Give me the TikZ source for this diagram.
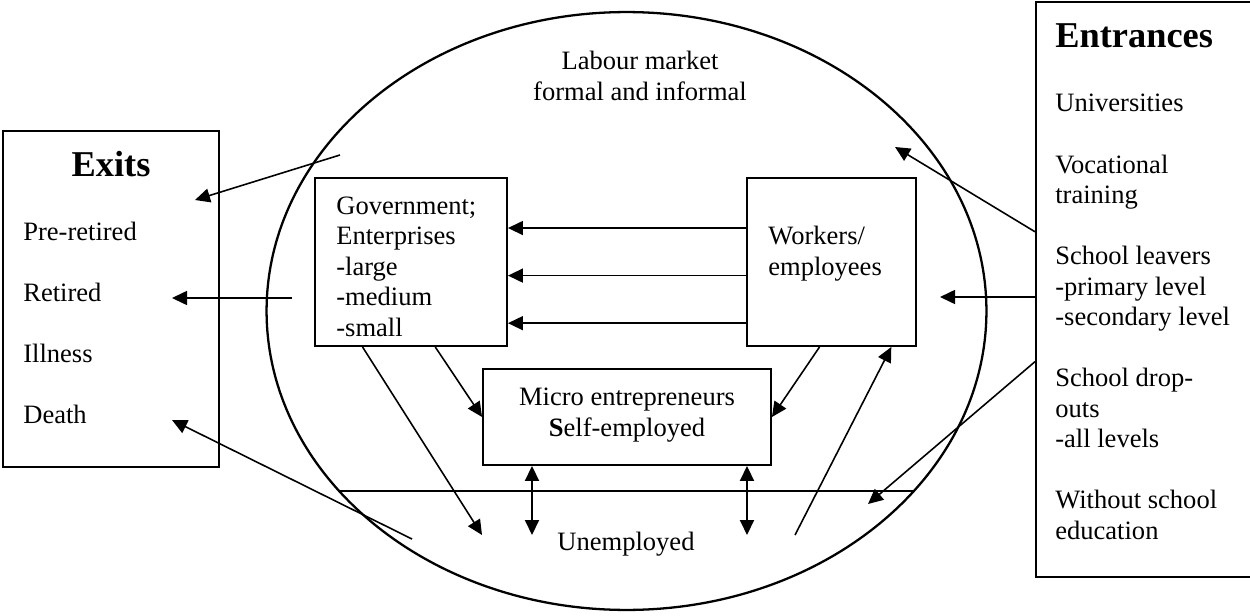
\documentclass[tikz,border=0pt]{standalone}
\usepackage{fontspec}
\setmainfont{Liberation Serif}
\usetikzlibrary{arrows.meta,calc,shapes.geometric}

\begin{document}
\begin{tikzpicture}[x=0.02cm, y=-0.02cm,
		txt/.style={font=\fontsize{15.1}{18}\selectfont, inner sep=0pt},
		head/.style={font=\fontsize{20.7}{24}\selectfont\bfseries, inner sep=0pt},
		box/.style={draw, line width=1.1pt, inner sep=0pt},
		arr/.style={line width=0.9pt, -{Triangle[length=0.3cm, width=0.28cm]}},
		darr/.style={line width=1.1pt, {Triangle[length=0.3cm, width=0.28cm]}-{Triangle[length=0.3cm, width=0.28cm]}}]
		
		\useasboundingbox (0,0) rectangle (1250,615);
		\clip (0,0) rectangle (1250,615);
		
		% labour market
		\node [ellipse, draw, line width=1.3pt, minimum width=14.4cm, minimum height=11.96cm, inner sep=0pt] (market) at (626.5,311) {};
		\node [txt, anchor=base] (lm1) at (640,70) {Labour market};
		\node [txt, anchor=base] (lm2) at (640,100.5) {formal and informal};
		
		% exits
		\node [box, minimum width=4.32cm, minimum height=6.72cm] (exits) at (111,299) {};
		\node [head, anchor=base] (exithead) at (111,176) {Exits};
		\foreach \txt [count=\i] in {Pre-retired, Retired, Illness, Death}
			\node [txt, anchor=base west] (exit\i) at (23, 179+61*\i) {\txt};
		
		% entrances (its right side runs off the page)
		\node [box, minimum width=5.28cm, minimum height=11.5cm] (entr) at (1168,289.5) {};
		\node [head, anchor=base west] (entrhead) at (1055,48) {Entrances};
		\foreach \txt/\row in {Universities/0, Vocational/2, training/3, School leavers/5, -primary level/6, -secondary level/7, School drop-/9, outs/10, -all levels/11, Without school/13, education/14}
			\node [txt, anchor=base west] (entr\row) at (1055, 112+30.5*\row) {\txt};
		
		% government and enterprises
		\node [box, minimum width=3.84cm, minimum height=3.36cm] (gov) at (411,262) {};
		\foreach \txt [count=\i] in {Government;, Enterprises, -large, -medium, -small}
			\node [txt, anchor=base west] (gov\i) at (336, 183.5+30.5*\i) {\txt};
		
		% workers
		\node [box, minimum width=3.38cm, minimum height=3.36cm] (work) at (831.5,262) {};
		\node [txt, anchor=base west] (work1) at (768,244.5) {Workers/};
		\node [txt, anchor=base west] (work2) at (768,275) {employees};
		
		% micro entrepreneurs
		\node [box, minimum width=5.76cm, minimum height=1.92cm] (micro) at (627,417) {};
		\node [txt, anchor=base] (micro1) at (627,405) {Micro entrepreneurs};
		\node [txt, anchor=base] (micro2) at (627,436) {\textbf{S}elf-employed};
		
		% unemployed
		\draw [line width=1.1pt] (market.212) -- (market.-32);
		\node [txt, anchor=base] (unemp) at (626,550) {Unemployed};
		
		% arrows from workers to government
		\foreach \f in {0.3, 0.58, 0.86}
			\draw [arr] ($(work.north west)!\f!(work.south west)$) -- ($(gov.north east)!\f!(gov.south east)$);
		
		% arrows into micro entrepreneurs
		\draw [arr] ($(gov.south west)!0.625!(gov.south east)$) -- (micro.west);
		\draw [arr] ($(work.south west)!0.43!(work.south east)$) -- (micro.east);
		
		% arrows to and from unemployed
		\coordinate (un1) at (482,535);
		\coordinate (un2) at (532,535);
		\coordinate (un3) at (747,535);
		\coordinate (un4) at (795,535);
		\draw [arr] ($(gov.south west)!0.25!(gov.south east)$) -- (un1);
		\draw [darr] (micro.south -| un2) -- (un2);
		\draw [darr] (micro.south -| un3) -- (un3);
		\draw [arr] (un4) -- ($(work.south west)!0.85!(work.south east)$);
		
		% arrows from entrances
		\coordinate (en1) at (895,147);
		\coordinate (en2) at (940,297);
		\coordinate (en3) at (868,504);
		\draw [arr] ($(entr.north west)!0.4!(entr.south west)$) -- (en1);
		\draw [arr] (entr.west |- en2) -- (en2);
		\draw [arr] ($(entr.north west)!0.625!(entr.south west)$) -- (en3);
		
		% arrows to exits
		\coordinate (ex1) at (340,155);
		\coordinate (ex2) at (292,298);
		\coordinate (ex3) at (412,539);
		\coordinate (ex1tip) at (195,200);
		\coordinate (ex2tip) at (172,298);
		\coordinate (ex3tip) at (172,420);
		\draw [arr] (ex1) -- (ex1tip);
		\draw [arr] (ex2) -- (ex2tip);
		\draw [arr] (ex3) -- (ex3tip);
		
		\end{tikzpicture}
\end{document}
